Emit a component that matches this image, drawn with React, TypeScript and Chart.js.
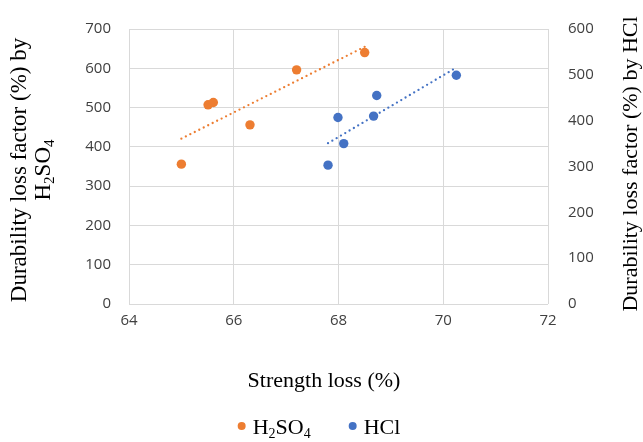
import React, { useEffect, useRef } from 'react';
import { Chart, registerables } from 'chart.js';

Chart.register(...registerables);

// ---- Data ----
const h2so4Strength = [65.0, 65.51, 65.61, 66.31, 67.2, 68.5];
const h2so4Durability = [356, 507, 513, 456, 596, 640];
const hclStrength = [67.8, 67.99, 68.1, 68.67, 68.73, 70.25];
const hclDurability = [303, 407, 350, 410, 455, 499];

const xTitle = 'Strength loss (%)';
const leftTitle1 = 'Durability loss factor (%) by';
const leftTitle2: [string, boolean][] = [['H', false], ['2', true], ['SO', false], ['4', true]];
const rightTitle = 'Durability loss factor (%) by HCl';
const legendH2SO4: [string, boolean][] = [['H', false], ['2', true], ['SO', false], ['4', true]];
const legendHCl: [string, boolean][] = [['HCl', false]];

const ORANGE = '#ED7D31';
const BLUE = '#4472C4';
const SERIF = '"Liberation Serif", "Times New Roman", serif';
const TICK_FONT = '"Open Sans", sans-serif';
const TICK_COLOR = '#404040';

function trend(xs: number[], ys: number[]) {
  const n = xs.length;
  const mx = xs.reduce((a, b) => a + b, 0) / n;
  const my = ys.reduce((a, b) => a + b, 0) / n;
  let sxy = 0, sxx = 0;
  for (let i = 0; i < n; i++) {
    sxy += (xs[i] - mx) * (ys[i] - my);
    sxx += (xs[i] - mx) * (xs[i] - mx);
  }
  const m = sxy / sxx;
  const b = my - m * mx;
  const x0 = Math.min(...xs), x1 = Math.max(...xs);
  return [{ x: x0, y: m * x0 + b }, { x: x1, y: m * x1 + b }];
}

const FS = 22;

function richWidth(ctx: CanvasRenderingContext2D, parts: [string, boolean][], fs = FS) {
  let w = 0;
  for (const [t, sub] of parts) {
    ctx.font = `${sub ? Math.round(fs * 0.65) : fs}px ${SERIF}`;
    w += ctx.measureText(t).width;
  }
  return w;
}

function drawRich(ctx: CanvasRenderingContext2D, parts: [string, boolean][], x: number, y: number, fs = FS) {
  let cx = x;
  ctx.textBaseline = 'middle';
  ctx.textAlign = 'left';
  for (const [t, sub] of parts) {
    ctx.font = `${sub ? Math.round(fs * 0.65) : fs}px ${SERIF}`;
    ctx.fillText(t, cx, sub ? y + fs * 0.28 : y);
    cx += ctx.measureText(t).width;
  }
}

const titlesPlugin = {
  id: 'customTitles',
  afterDraw(chart: any) {
    const ctx: CanvasRenderingContext2D = chart.ctx;
    ctx.save();
    ctx.fillStyle = '#000000';
    // X title
    ctx.font = `${FS}px ${SERIF}`;
    ctx.textAlign = 'center';
    ctx.textBaseline = 'middle';
    ctx.fillText(xTitle, 324, 381);

    // Left title (two lines, rotated)
    const LFS = 23;
    ctx.save();
    ctx.translate(20, 170);
    ctx.rotate(-Math.PI / 2);
    ctx.font = `${LFS}px ${SERIF}`;
    ctx.textAlign = 'center';
    ctx.textBaseline = 'middle';
    ctx.fillText(leftTitle1, 0, 0);
    const w2 = richWidth(ctx, leftTitle2, LFS);
    drawRich(ctx, leftTitle2, -w2 / 2, 24, LFS);
    ctx.restore();

    // Right title (rotated, reading bottom to top)
    ctx.save();
    ctx.translate(631, 164);
    ctx.rotate(-Math.PI / 2);
    ctx.font = `${FS}px ${SERIF}`;
    ctx.textAlign = 'center';
    ctx.textBaseline = 'middle';
    ctx.fillText(rightTitle, 0, 0);
    ctx.restore();

    // Legend
    const items: [[string, boolean][], string][] = [
      [legendH2SO4, chart.data.datasets[0].backgroundColor],
      [legendHCl, chart.data.datasets[1].backgroundColor],
    ];
    const dotR = 4;
    const dotGap = 7;
    const itemGap = 38;
    const widths = items.map(([p]) => dotR * 2 + dotGap + richWidth(ctx, p));
    const total = widths.reduce((a, b) => a + b, 0) + itemGap * (items.length - 1);
    let x = 319 - total / 2;
    const ly = 428;
    items.forEach(([p, col], i) => {
      ctx.fillStyle = col;
      ctx.beginPath();
      ctx.arc(x + dotR, ly - 2, dotR, 0, Math.PI * 2);
      ctx.fill();
      ctx.fillStyle = '#000000';
      drawRich(ctx, p, x + dotR * 2 + dotGap, ly);
      x += widths[i] + itemGap;
    });
    ctx.restore();
  },
};

export default function App() {
  const ref = useRef<HTMLCanvasElement | null>(null);
  useEffect(() => {
    if (!ref.current) return;
    const chart = new Chart(ref.current, {
      type: 'scatter',
      data: {
        datasets: [
          {
            label: 'H2SO4',
            data: h2so4Strength.map((x, i) => ({ x, y: h2so4Durability[i] })),
            backgroundColor: ORANGE,
            borderColor: ORANGE,
            pointRadius: 4.7,
            pointBorderWidth: 0,
            yAxisID: 'y',
          },
          {
            label: 'HCl',
            data: hclStrength.map((x, i) => ({ x, y: hclDurability[i] })),
            backgroundColor: BLUE,
            borderColor: BLUE,
            pointRadius: 4.7,
            pointBorderWidth: 0,
            yAxisID: 'y2',
          },
          {
            label: 'H2SO4 trend',
            type: 'line',
            data: trend(h2so4Strength, h2so4Durability),
            borderColor: ORANGE,
            borderWidth: 2.3,
            borderDash: [0, 5],
            borderCapStyle: 'round',
            pointRadius: 0,
            fill: false,
            yAxisID: 'y',
          } as any,
          {
            label: 'HCl trend',
            type: 'line',
            data: trend(hclStrength, hclDurability),
            borderColor: BLUE,
            borderWidth: 2.3,
            borderDash: [0, 5],
            borderCapStyle: 'round',
            pointRadius: 0,
            fill: false,
            yAxisID: 'y2',
          } as any,
        ],
      },
      options: {
        animation: false,
        responsive: false,
        devicePixelRatio: 1,
        layout: { padding: { top: 23, left: 0, right: 0, bottom: 0 } },
        plugins: {
          legend: { display: false },
          tooltip: { enabled: false },
        },
        scales: {
          x: {
            type: 'linear',
            min: 64,
            max: 72,
            ticks: { stepSize: 2, color: TICK_COLOR, font: { family: TICK_FONT, size: 15 }, padding: 8 },
            grid: { color: '#d9d9d9', lineWidth: 1, drawTicks: false },
            border: { display: false },
            afterFit: (s: any) => { s.height = 138; },
          },
          y: {
            type: 'linear',
            position: 'left',
            min: 0,
            max: 700,
            ticks: { stepSize: 100, color: TICK_COLOR, font: { family: TICK_FONT, size: 15 }, padding: 18 },
            grid: { color: '#d9d9d9', lineWidth: 1, drawTicks: false },
            border: { display: false },
            afterFit: (s: any) => { s.width = 129; },
          },
          y2: {
            type: 'linear',
            position: 'right',
            min: 0,
            max: 600,
            ticks: { stepSize: 100, color: TICK_COLOR, font: { family: TICK_FONT, size: 15 }, padding: 20 },
            grid: { display: false, drawTicks: false },
            border: { display: false },
            afterFit: (s: any) => { s.width = 95; },
          },
        },
      },
      plugins: [titlesPlugin],
    });
    return () => chart.destroy();
  }, []);
  return (
    <div style={{ position: 'fixed', left: 0, top: 0, width: 643, height: 442, background: '#fff' }}>
      <canvas ref={ref} width={643} height={442} style={{ width: 643, height: 442, display: 'block' }} />
    </div>
  );
}
